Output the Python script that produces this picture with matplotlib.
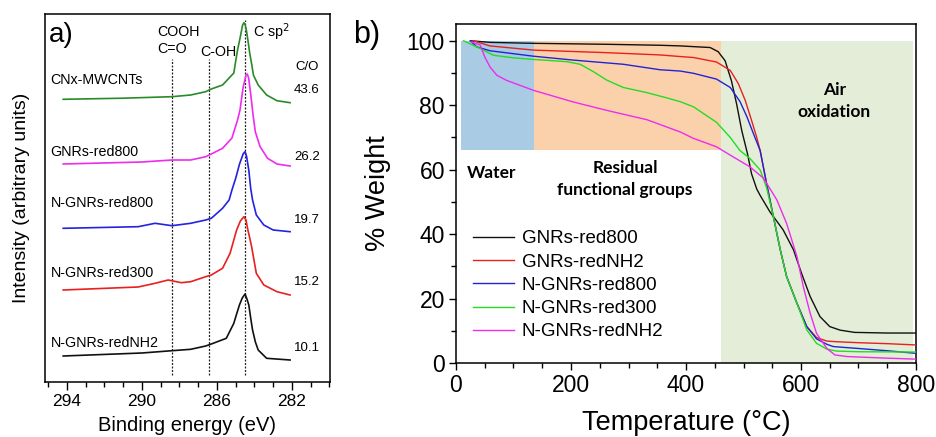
import matplotlib
matplotlib.use("Agg")
import matplotlib.pyplot as plt
import numpy as np
from matplotlib.ticker import MultipleLocator

plt.rcParams['font.family'] = ['Liberation Sans', 'DejaVu Sans']

# ---------------- Panel a: XPS C1s spectra ----------------
xps_names = ["CNx-MWCNTs", "GNRs-red800", "N-GNRs-red800", "N-GNRs-red300", "N-GNRs-redNH2"]
xps_co = ["43.6", "26.2", "19.7", "15.2", "10.1"]
ref_labels = ["COOH\nC=O", "C-OH", "C sp$^2$"]
ref_energies = [288.4, 286.4, 284.5]

e_cnx = [294.2, 291.0, 288.4, 287.4, 286.6, 286.3, 285.7, 285.1, 284.99, 284.9, 284.77, 284.63, 284.56, 284.49, 284.42, 284.35, 284.25, 284.17, 284.05, 283.8, 283.35, 282.8, 282.1]
i_cnx = [0, 1.1, 2.6, 4.3, 7.6, 10.3, 14.3, 26.3, 39.3, 49.3, 61, 74.3, 76.6, 74.3, 68, 59.3, 46, 37.6, 24, 14.3, 4.3, -1.4, -3.4]

e_gnr800 = [294.2, 290.0, 288.4, 287.4, 286.6, 286.3, 285.7, 285.2, 284.9, 284.77, 284.6, 284.45, 284.38, 284.31, 284.2, 284.06, 283.95, 283.7, 283.3, 282.8, 282.1]
i_gnr800 = [0, 2, 4, 4, 7.3, 10, 15.7, 26, 44, 54, 77, 89, 90, 86, 70, 47, 32, 17.3, 5.7, 0, -2]

e_ngnr800 = [294.2, 290.2, 289.3, 288.4, 287.4, 286.6, 286.3, 285.7, 285.35, 285.2, 285.0, 284.8, 284.6, 284.5, 284.42, 284.3, 284.2, 284.1, 283.9, 283.5, 283.0, 282.1]
i_ngnr800 = [0, 1.6, 5, 2.6, 5, 8.3, 10, 20, 28.3, 38.3, 50, 64, 74.5, 76.6, 72, 58, 40, 28.3, 13.3, 3.3, -1.7, -3.4]

e_ngnr300 = [294.2, 290.2, 289.3, 288.6, 287.9, 287.4, 286.6, 286.3, 285.7, 285.3, 285.1, 284.95, 284.75, 284.56, 284.45, 284.35, 284.25, 284.15, 283.9, 283.5, 282.8, 282.1]
i_ngnr300 = [0, 3, 6.7, 10, 7.3, 8.3, 13.3, 15, 21.7, 36.7, 50, 60, 69, 73.3, 70, 60, 52, 43.3, 16.7, 5, -1.7, -5]

e_ngnrnh2 = [294.2, 290.0, 288.4, 287.4, 286.6, 286.3, 285.5, 285.1, 284.95, 284.8, 284.65, 284.5, 284.4, 284.3, 284.2, 284.1, 283.95, 283.8, 283.35, 282.1]
i_ngnrnh2 = [0, 3, 5.3, 6.7, 10, 12, 17.7, 32.7, 42, 51, 58, 62, 57, 51, 38, 26, 14, 6, -2.3, -4]

# ---------------- Panel b: TGA ----------------
tga_names = ["GNRs-red800", "GNRs-redNH2", "N-GNRs-red800", "N-GNRs-red300", "N-GNRs-redNH2"]

t_gnr800 = [25, 60, 135, 263, 355, 390, 442, 456, 468, 479, 488, 497, 507, 514, 523, 529, 546, 569, 587, 601, 616, 633, 650, 668, 693, 750, 800]
w_gnr800 = [100, 99.5, 99.2, 98.9, 98.6, 98.4, 97.9, 96.6, 93.8, 87.6, 80.4, 72.1, 64.9, 58.7, 54, 52, 46.9, 41.3, 35.1, 27.8, 20.6, 14.4, 11.3, 10.2, 9.5, 9.3, 9.3]

t_gnrnh2 = [30, 59, 135, 262, 355, 390, 413, 453, 477, 491, 503, 514, 523, 529, 540, 552, 564, 575, 593, 610, 627, 645, 662, 700, 750, 800]
w_gnrnh2 = [100, 98.4, 97.1, 96.3, 95.6, 95.1, 94.8, 93.4, 90.8, 86.7, 81.5, 75.3, 70, 65.9, 55.8, 45.4, 35.1, 26.8, 18.5, 11.3, 7.9, 6.8, 6.6, 6.3, 6.0, 5.6]

t_ngnr800 = [25, 36, 59, 135, 204, 291, 355, 390, 413, 453, 477, 494, 506, 517, 529, 540, 552, 564, 575, 593, 610, 627, 645, 656, 700, 750, 800]
w_ngnr800 = [100, 98.1, 96.9, 95.2, 94, 92.7, 91.0, 90.6, 89.9, 88.1, 85.5, 81.1, 76.4, 71.3, 65.9, 55.8, 45.4, 35.1, 26.8, 18.5, 11.3, 7.5, 5.8, 5.1, 4.5, 3.8, 3.0]

t_ngnr300 = [13, 42, 65, 100, 135, 193, 216, 239, 262, 291, 332, 366, 390, 413, 453, 477, 494, 511, 529, 540, 552, 564, 575, 593, 610, 627, 645, 662, 700, 800]
w_ngnr300 = [100, 97.6, 95.5, 94.7, 94.2, 93.5, 92.7, 90.4, 87.8, 85.5, 83.9, 82.3, 81.1, 79.5, 74.7, 70, 65.9, 63.5, 59.9, 54.5, 45.4, 35.1, 26.8, 18.5, 10.3, 6.1, 4.3, 3.7, 3.5, 3.4]

t_ngnrnh2 = [27, 42, 50, 59, 71, 88, 135, 204, 262, 332, 390, 413, 453, 477, 511, 535, 558, 575, 593, 604, 616, 627, 645, 659, 680, 750, 800]
w_ngnrnh2 = [99.6, 98.7, 95, 91.9, 89.3, 87.7, 84.6, 81, 78.4, 75.5, 71.7, 69.7, 67.1, 64.5, 60.9, 57.3, 50.6, 43.3, 33, 23.7, 15.4, 9.2, 4.5, 2.5, 2.0, 1.5, 1.2]

region_labels = ["Water", "Residual\nfunctional groups", "Air\noxidation"]
region_t = [(8, 136), (136, 461), (461, 795)]
region_w = [(66, 100), (66, 100), (0, 100)]

# ---------------- Figure ----------------
fig = plt.figure(figsize=(9.37, 4.37), dpi=100)
W, H = 937.0, 437.0
axa = fig.add_axes([45 / W, (H - 382) / H, 285 / W, 368 / H])
axb = fig.add_axes([456 / W, (H - 363) / H, 460 / W, 339 / H])

# Panel a
xps_E = [e_cnx, e_gnr800, e_ngnr800, e_ngnr300, e_ngnrnh2]
xps_I = [i_cnx, i_gnr800, i_ngnr800, i_ngnr300, i_ngnrnh2]
xps_colors = ["#2a8a2a", "#ee2bee", "#2323e0", "#e82020", "#111111"]
offsets = [282.7, 218, 153.7, 92, 26]
name_y = [302, 230, 179, 109, 39]
co_y = [292, 225, 162, 100, 34]

for E, I, off, c in zip(xps_E, xps_I, offsets, xps_colors):
    axa.plot(E, np.array(I) + off, color=c, lw=1.2, zorder=3, solid_joinstyle="round")

ref_top = [322.7, 322.7, 362]
for e, top in zip(ref_energies, ref_top):
    axa.plot([e, e], [7, top], color="#222222", lw=0.9, ls=(0, (1.6, 1.2)), zorder=2)

axa.set_xlim(295.17, 279.97)
axa.set_ylim(0, 368)
axa.set_yticks([])
axa.set_xticks([294, 290, 286, 282])
axa.xaxis.set_minor_locator(MultipleLocator(1))
axa.tick_params(axis="x", which="major", direction="out", length=6, width=1, labelsize=12.5, pad=3)
axa.tick_params(axis="x", which="minor", direction="out", length=3.5, width=1)
axa.set_xlabel("Binding energy (eV)", fontsize=14.5, labelpad=5)
axa.set_ylabel("Intensity (arbitrary units)", fontsize=14, labelpad=11)
for s in axa.spines.values():
    s.set_linewidth(1.1)

axa.text(294.95, 347, "a)", fontsize=20, ha="left", va="center")
axa.text(289.2, 341.5, ref_labels[0], fontsize=10.3, ha="left", va="center", linespacing=1.25)
axa.text(286.9, 330, ref_labels[1], fontsize=10.3, ha="left", va="center")
axa.text(284.06, 350, ref_labels[2], fontsize=10.3, ha="left", va="center")
axa.text(281.2, 315, "C/O", fontsize=9.5, ha="center", va="center")
for nm, y in zip(xps_names, name_y):
    axa.text(294.87, y, nm, fontsize=10.3, ha="left", va="center")
for v, y in zip(xps_co, co_y):
    axa.text(281.2, y, v, fontsize=9.5, ha="center", va="center")

# Panel b
region_colors = ["#a9cbe4", "#fbd1ab", "#e3edd7"]
for (t0, t1), (w0, w1), c in zip(region_t, region_w, region_colors):
    axb.fill_between([t0, t1], w0, w1, color=c, lw=0, zorder=0)

tga_T = [t_gnr800, t_gnrnh2, t_ngnr800, t_ngnr300, t_ngnrnh2]
tga_W = [w_gnr800, w_gnrnh2, w_ngnr800, w_ngnr300, w_ngnrnh2]
tga_colors = ["#111111", "#e82020", "#2323d6", "#22dd22", "#ee2bee"]
for T, Wt, c, nm in zip(tga_T, tga_W, tga_colors, tga_names):
    axb.plot(T, Wt, color=c, lw=1.0, label=nm, zorder=3)

axb.set_xlim(0, 800)
axb.set_ylim(0, 105.2)
axb.set_xticks([0, 200, 400, 600, 800])
axb.set_yticks([0, 20, 40, 60, 80, 100])
axb.xaxis.set_minor_locator(MultipleLocator(50))
axb.yaxis.set_minor_locator(MultipleLocator(10))
axb.tick_params(which="major", direction="out", length=5, width=1, labelsize=16.5, pad=3)
axb.tick_params(which="minor", direction="out", length=3.5, width=1)
axb.set_xlabel("Temperature (\u00b0C)", fontsize=19.5, labelpad=9)
axb.set_ylabel("% Weight", fontsize=19.5, labelpad=11)
for s in axb.spines.values():
    s.set_linewidth(1.1)

axb.text(18.6, 59, region_labels[0], fontsize=12.5, fontweight="bold", family="Lato", ha="left", va="center")
axb.text(294, 57, region_labels[1], fontsize=12.5, fontweight="bold", family="Lato", ha="center", va="center", linespacing=1.45)
axb.text(658, 81.4, region_labels[2], fontsize=12.5, fontweight="bold", family="Lato", ha="center", va="center", linespacing=1.45)

leg = axb.legend(loc="upper left", bbox_to_anchor=(0.037, 0.392), frameon=False, fontsize=13.5,
                 handlelength=2.2, handletextpad=0.4, labelspacing=0.33, borderpad=0, borderaxespad=0)

fig.text(353 / W, 1 - 35 / H, "b)", fontsize=22, ha="left", va="center")

fig.savefig("out.png", dpi=100)
